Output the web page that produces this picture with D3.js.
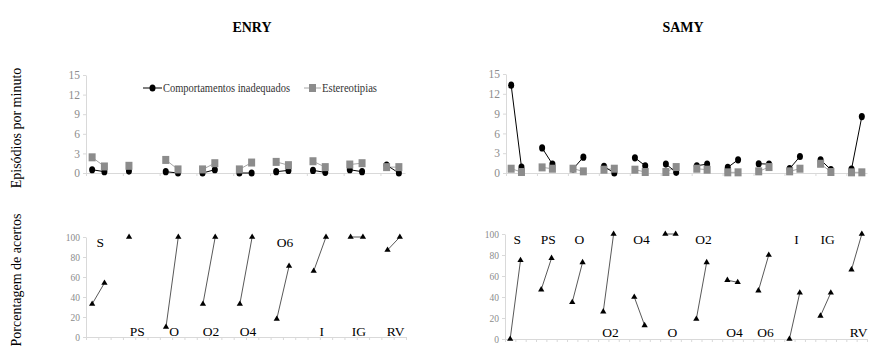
<!DOCTYPE html>
<html>
<head>
<meta charset="utf-8">
<script src="https://cdn.jsdelivr.net/npm/d3@7"></script>
<style>
  body { margin: 0; background: #fff; }
  svg, svg text { font-family: "Liberation Serif", "Times New Roman", "DejaVu Serif", serif; }
</style>
</head>
<body>
<svg id="chart" width="872" height="350"></svg>
<script>
// phases (each phase has two sessions, one empty slot between phases)
const enryPhases = ["S", "PS", "O", "O2", "O4", "O6", "I", "IG", "RV"];
const samyPhases = ["S", "PS", "O", "O2", "O4", "O", "O2", "O4", "O6", "I", "IG", "RV"];

// episodes per minute: inappropriate behaviours
const enryComp = [[0.5, 0.2], [0.3, null], [0.2, 0], [0, 0.5], [0, 0], [0.2, 0.4], [0.4, 0.1], [0.5, 0.2], [1.2, 0]];
const samyComp = [[13.3, 0.9], [3.8, 1.35], [0.6, 2.4], [1.0, 0], [2.3, 1.1], [1.35, 0.1], [1.1, 1.35], [0.85, 2.0], [1.4, 1.35], [0.65, 2.5], [2.0, 0.5], [0.6, 8.55]];

// episodes per minute: stereotypies
const enryEst = [[2.4, 1.0], [1.1, null], [2.0, 0.55], [0.55, 1.5], [0.55, 1.6], [1.7, 1.2], [1.8, 0.9], [1.3, 1.5], [0.9, 0.9]];
const samyEst = [[0.65, 0.15], [0.85, 0.65], [0.65, 0.25], [0.5, 0.65], [0.5, 0.15], [0.15, 0.9], [0.65, 0.5], [0.1, 0.1], [0.25, 0.9], [0.25, 0.65], [1.4, 0.15], [0.1, 0.1]];

// percentage of correct answers
const enryAcertos = [[33, 54], [100, null], [10, 100], [33, 100], [33, 100], [18, 71], [66, 100], [100, 100], [87, 100]];
const samyAcertos = [[0, 75], [47, 77], [35, 73], [26, 100], [40, 13], [100, 100], [19, 73], [56, 54], [46, 80], [0, 44], [22, 44], [66, 100]];

const episodeTicks = [0, 3, 6, 9, 12, 15];
const percentTicks = [0, 20, 40, 60, 80, 100];

// label placement (top of panel or bottom)
const enryLabelTop = [true, false, false, false, false, true, false, false, false];
const samyLabelTop = [true, true, true, false, true, false, true, false, false, true, true, false];

const FONT = "'Liberation Serif', 'Times New Roman', serif";
const svg = d3.select("#chart").attr("font-family", FONT);

// turn [[a,b],...] into a session array with a null slot between phases
function sessions(pairs) {
  const out = [];
  pairs.forEach((p, i) => {
    if (i > 0) out.push(null);
    out.push(p[0], p[1]);
  });
  return out;
}

const lightGray = "#d9d9d9";
const tickText = "#8c8c8c";

function yAxis(g, y, ticks, fontSize) {
  g.call(d3.axisLeft(y).tickValues(ticks).tickSize(3).tickSizeOuter(0));
  g.attr("font-family", FONT);
  g.select(".domain").attr("stroke", lightGray);
  g.selectAll(".tick line").attr("stroke", lightGray);
  g.selectAll(".tick text")
    .attr("fill", tickText)
    .attr("font-size", fontSize)
    .attr("x", -6);
}

function xAxis(g, xs, ticks) {
  g.call(d3.axisBottom(xs).tickValues(ticks).tickSize(3).tickSizeOuter(0).tickFormat(""));
  g.select(".domain").attr("stroke", lightGray);
  g.selectAll(".tick line").attr("stroke", lightGray);
}

function episodesPanel(opts) {
  const { comp, est, x0, x1, yTop, yBottom } = opts;
  const cv = sessions(comp);
  const ev = sessions(est);
  const n = cv.length;
  const xs = d3.scaleLinear().domain([0, n]).range([x0, x1]);
  const y = d3.scaleLinear().domain([0, 15]).range([yBottom, yTop]);
  const cx = i => xs(i + 0.5);

  svg.append("g").attr("transform", `translate(0,${yBottom})`)
    .call(g => xAxis(g, xs, d3.range(0, n + 1, 3)));
  svg.append("g").attr("transform", `translate(${x0},0)`)
    .call(g => yAxis(g, y, episodeTicks, 11.5));

  const line = d3.line()
    .defined(d => d !== null)
    .x((d, i) => cx(i))
    .y(d => y(d));

  svg.append("path").datum(ev)
    .attr("d", line).attr("fill", "none")
    .attr("stroke", "#a6a6a6").attr("stroke-width", 1);
  svg.append("path").datum(cv)
    .attr("d", line).attr("fill", "none")
    .attr("stroke", "#000").attr("stroke-width", 1);

  const estPts = ev.map((v, i) => ({ v, i })).filter(d => d.v !== null);
  const compPts = cv.map((v, i) => ({ v, i })).filter(d => d.v !== null);

  svg.append("g").selectAll("ellipse")
    .data(compPts).enter().append("ellipse")
    .attr("cx", d => cx(d.i)).attr("cy", d => y(d.v))
    .attr("rx", 3).attr("ry", 3.6)
    .attr("fill", "#000");

  svg.append("g").selectAll("rect")
    .data(estPts).enter().append("rect")
    .attr("x", d => cx(d.i) - 3.5).attr("y", d => y(d.v) - 4)
    .attr("width", 7).attr("height", 8)
    .attr("fill", "#8c8c8c");
}

function acertosPanel(opts) {
  const { phases, values, labelTop, x0, x1, yTop, yBottom } = opts;
  const av = sessions(values);
  const n = av.length;
  const xs = d3.scaleLinear().domain([0, n]).range([x0, x1]);
  const y = d3.scaleLinear().domain([0, 100]).range([yBottom, yTop]);
  const cx = i => xs(i + 0.5);

  svg.append("g").attr("transform", `translate(0,${yBottom})`)
    .call(g => xAxis(g, xs, d3.range(0, n + 1)));
  svg.append("g").attr("transform", `translate(${x0},0)`)
    .call(g => yAxis(g, y, percentTicks, 9.5));

  const line = d3.line()
    .defined(d => d !== null)
    .x((d, i) => cx(i))
    .y(d => y(d));

  svg.append("path").datum(av)
    .attr("d", line).attr("fill", "none")
    .attr("stroke", "#595959").attr("stroke-width", 1);

  const pts = av.map((v, i) => ({ v, i })).filter(d => d.v !== null);
  const tri = d3.symbol().type(d3.symbolTriangle).size(17);
  svg.append("g").selectAll("path")
    .data(pts).enter().append("path")
    .attr("d", tri)
    .attr("transform", d => `translate(${cx(d.i)},${y(d.v)})`)
    .attr("fill", "#000");

  svg.append("g").selectAll("text")
    .data(phases).enter().append("text")
    .attr("x", (d, i) => xs(i * 3 + 1) + 2)
    .attr("y", (d, i) => labelTop[i] ? y(95) : y(6))
    .attr("dy", "0.35em")
    .attr("text-anchor", "middle")
    .attr("font-size", 13.5)
    .attr("fill", "#000")
    .text(d => d);
}

// ENRY
episodesPanel({ comp: enryComp, est: enryEst, x0: 86, x1: 405, yTop: 75, yBottom: 173 });
acertosPanel({ phases: enryPhases, values: enryAcertos, labelTop: enryLabelTop, x0: 86, x1: 406, yTop: 237, yBottom: 337 });

// SAMY
episodesPanel({ comp: samyComp, est: samyEst, x0: 506, x1: 867, yTop: 74, yBottom: 173 });
acertosPanel({ phases: samyPhases, values: samyAcertos, labelTop: samyLabelTop, x0: 505, x1: 867, yTop: 234, yBottom: 339 });

// titles
svg.append("text").attr("x", 252).attr("y", 32).attr("text-anchor", "middle")
  .attr("font-size", 14).attr("font-weight", "bold").text("ENRY");
svg.append("text").attr("x", 683).attr("y", 32).attr("text-anchor", "middle")
  .attr("font-size", 14).attr("font-weight", "bold").text("SAMY");

// y axis titles
svg.append("text").attr("transform", "translate(21,128) rotate(-90)")
  .attr("text-anchor", "middle").attr("font-size", 14).text("Episódios por minuto");
svg.append("text").attr("transform", "translate(21,280) rotate(-90)")
  .attr("text-anchor", "middle").attr("font-size", 14).text("Porcentagem de acertos");

// legend
const legend = svg.append("g").attr("font-size", 12).attr("fill", "#333");
legend.append("line").attr("x1", 143).attr("x2", 162).attr("y1", 88).attr("y2", 88).attr("stroke", "#000");
legend.append("ellipse").attr("cx", 152.5).attr("cy", 88).attr("rx", 3).attr("ry", 3.6).attr("fill", "#000");
legend.append("text").attr("x", 163).attr("y", 88).attr("dy", "0.35em")
  .attr("textLength", 127).attr("lengthAdjust", "spacingAndGlyphs")
  .text("Comportamentos inadequados");
legend.append("line").attr("x1", 304).attr("x2", 321).attr("y1", 88).attr("y2", 88).attr("stroke", "#a6a6a6");
legend.append("rect").attr("x", 309).attr("y", 84).attr("width", 7).attr("height", 8).attr("fill", "#8c8c8c");
legend.append("text").attr("x", 322).attr("y", 88).attr("dy", "0.35em")
  .attr("textLength", 55).attr("lengthAdjust", "spacingAndGlyphs")
  .text("Estereotipias");
</script>
</body>
</html>
